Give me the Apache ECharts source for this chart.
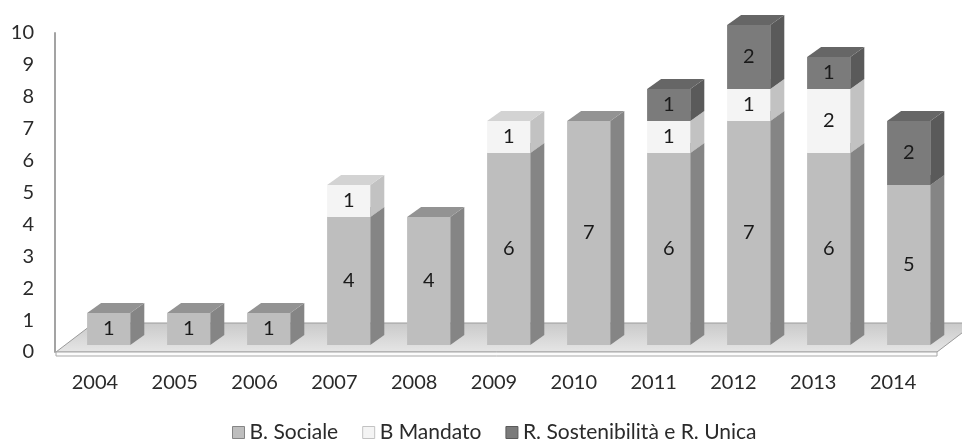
<!DOCTYPE html>
<html>
<head>
<meta charset="utf-8">
<script src="https://cdn.jsdelivr.net/npm/echarts@6/dist/echarts.min.js"></script>
<style>
  html, body { margin: 0; padding: 0; background: #fff; }
  #chart { width: 962px; height: 445px; }
</style>
</head>
<body>
<div id="chart"></div>
<script>
// Anni e conteggi per tipologia di documento
const years = ['2004', '2005', '2006', '2007', '2008', '2009', '2010', '2011', '2012', '2013', '2014'];
const bSociale = [1, 1, 1, 4, 4, 6, 7, 6, 7, 6, 5];
const bMandato = [0, 0, 0, 1, 0, 1, 0, 1, 1, 2, 0];
const rSostenibilita = [0, 0, 0, 0, 0, 0, 0, 1, 2, 1, 2];
const yTicks = [0, 1, 2, 3, 4, 5, 6, 7, 8, 9, 10];

const FONT = 'Lato, "Open Sans", sans-serif';

// Shades for the three faces of each box: front, side, top
const palette = {
  'B. Sociale': { front: '#bebebe', side: '#858585', top: '#939393' },
  'B Mandato': { front: '#f4f4f4', side: '#c2c2c2', top: '#d3d3d3' },
  'R. Sostenibilità e R. Unica': { front: '#7b7b7b', side: '#5a5a5a', top: '#666666' }
};

// Stack the series: each item is [category, base, value]
const stackInput = [
  ['B. Sociale', bSociale],
  ['B Mandato', bMandato],
  ['R. Sostenibilità e R. Unica', rSostenibilita]
];
const running = years.map(() => 0);
const stacked = stackInput.map(([name, vals]) => {
  const data = vals.map((v, i) => {
    const item = [i, running[i], v];
    running[i] += v;
    return item;
  });
  return { name, data };
});

function makeRender(colors) {
  return function (params, api) {
    const i = api.value(0);
    const base = api.value(1);
    const v = api.value(2);
    if (!v) return null;
    const p0 = api.coord([i, base]);
    const p1 = api.coord([i, base + v]);
    const band = api.size([1, 0])[0];
    const bw = band * 0.54;
    const dx = band * 0.175;
    const dy = -band * 0.125;
    const l = p0[0] - bw / 2;
    const r = p0[0] + bw / 2;
    const yb = p0[1];
    const yt = p1[1];
    return {
      type: 'group',
      children: [
        {
          type: 'rect',
          shape: { x: l, y: yt, width: bw, height: yb - yt },
          style: { fill: colors.front }
        },
        {
          type: 'polygon',
          shape: { points: [[r, yb], [r + dx, yb + dy], [r + dx, yt + dy], [r, yt]] },
          style: { fill: colors.side }
        },
        {
          type: 'polygon',
          shape: { points: [[l, yt], [l + dx, yt + dy], [r + dx, yt + dy], [r, yt]] },
          style: { fill: colors.top }
        },
        {
          type: 'text',
          style: {
            text: String(v),
            x: (l + r) / 2,
            y: (yb + yt) / 2,
            align: 'center',
            verticalAlign: 'middle',
            font: '20px ' + FONT,
            fill: '#1a1a1a'
          }
        }
      ]
    };
  };
}

const chart = echarts.init(document.getElementById('chart'));

chart.setOption({
  backgroundColor: '#ffffff',
  animation: false,
  grid: [
    // plotting area of the boxes
    { left: 68.7, right: 13.3, top: 25, bottom: 100 },
    // axis frame carrying the tick labels
    { left: 55, right: 29, top: 33, bottom: 93 }
  ],
  xAxis: [
    {
      type: 'category', gridIndex: 0, data: years,
      axisLine: { show: false }, axisTick: { show: false }, axisLabel: { show: false }
    },
    {
      type: 'category', gridIndex: 1, data: years,
      axisLine: { show: false }, axisTick: { show: false },
      axisLabel: { margin: 21, fontSize: 20, fontFamily: FONT, color: '#2a2a2a' }
    }
  ],
  yAxis: [
    {
      type: 'value', gridIndex: 0, min: 0, max: 10, interval: 1,
      axisLine: { show: false }, axisTick: { show: false },
      axisLabel: { show: false }, splitLine: { show: false }
    },
    {
      type: 'value', gridIndex: 1, min: yTicks[0], max: yTicks[yTicks.length - 1], interval: 1,
      axisLine: { show: true, lineStyle: { color: '#a3a3a3', width: 2 } },
      axisTick: { show: false }, splitLine: { show: false },
      axisLabel: { margin: 21, fontSize: 20, fontFamily: FONT, color: '#2a2a2a' }
    }
  ],
  legend: {
    top: 417,
    left: 227,
    itemWidth: 12,
    itemHeight: 12,
    itemGap: 24,
    itemTextGap: 4,
    icon: 'rect',
    textStyle: { fontSize: 21, fontFamily: FONT, color: '#2a2a2a' },
    data: stacked.map(s => ({
      name: s.name,
      itemStyle: {
        color: palette[s.name].front,
        borderColor: palette[s.name].side,
        borderWidth: 1
      }
    }))
  },
  graphic: [
    // floor slab: top surface
    {
      type: 'polygon', z: 0,
      shape: { points: [[56, 352], [937, 352], [975, 323], [94, 323]] },
      style: {
        fill: new echarts.graphic.LinearGradient(0, 0, 0, 1, [
          { offset: 0, color: '#c9c9c9' },
          { offset: 1, color: '#e6e6e6' }
        ]),
        stroke: '#9a9a9a',
        lineWidth: 1
      }
    },
    // floor slab: front edge
    {
      type: 'polygon', z: 0,
      shape: { points: [[56, 352], [937, 352], [937, 356], [56, 356]] },
      style: { fill: '#fbfbfb', stroke: '#a8a8a8', lineWidth: 1 }
    }
  ],
  series: stacked.map(s => ({
    type: 'custom',
    name: s.name,
    xAxisIndex: 0,
    yAxisIndex: 0,
    z: 3,
    itemStyle: { color: palette[s.name].front },
    renderItem: makeRender(palette[s.name]),
    encode: { x: 0, y: [1, 2] },
    data: s.data
  }))
});
</script>
</body>
</html>
